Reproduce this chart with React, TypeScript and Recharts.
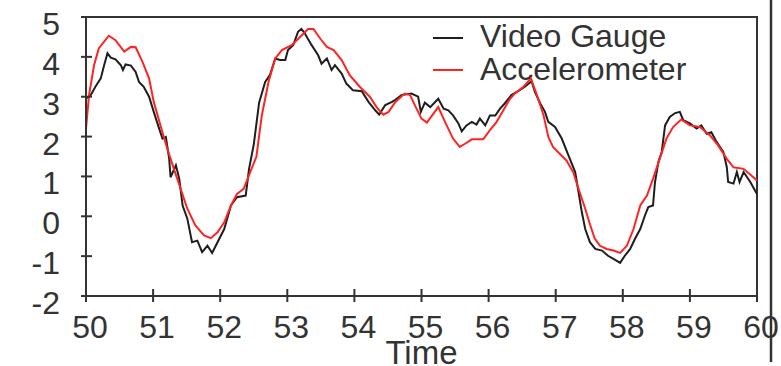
import { LineChart, Line, XAxis, YAxis, ReferenceArea } from "recharts";

// sample times (s) and displacement readings for the two sensors
const videoTime = [
  50.0, 50.07, 50.14, 50.22, 50.27, 50.32, 50.37, 50.44, 50.52, 50.55, 50.59, 50.67, 50.74, 50.79,
  50.86, 50.94, 51.01, 51.09, 51.14, 51.19, 51.24, 51.26, 51.34, 51.39, 51.44, 51.51, 51.58, 51.66,
  51.73, 51.81, 51.88, 51.96, 52.06, 52.16, 52.25, 52.38, 52.43, 52.5, 52.58, 52.67, 52.74, 52.82,
  52.89, 52.97, 53.01, 53.09, 53.16, 53.21, 53.26, 53.36, 53.46, 53.51, 53.59, 53.66, 53.71, 53.81,
  53.88, 53.98, 54.11, 54.21, 54.31, 54.37, 54.46, 54.56, 54.61, 54.7, 54.85, 54.95, 54.99, 55.05,
  55.13, 55.25, 55.33, 55.4, 55.47, 55.55, 55.6, 55.67, 55.75, 55.82, 55.87, 55.95, 56.02, 56.1,
  56.17, 56.24, 56.34, 56.44, 56.54, 56.64, 56.69, 56.77, 56.84, 56.89, 56.99, 57.09, 57.19, 57.29,
  57.34, 57.39, 57.44, 57.51, 57.59, 57.69, 57.78, 57.88, 57.96, 58.03, 58.11, 58.18, 58.26, 58.33,
  58.38, 58.45, 58.48, 58.53, 58.58, 58.63, 58.7, 58.78, 58.85, 58.9, 59.0, 59.1, 59.17, 59.25,
  59.32, 59.4, 59.5, 59.55, 59.57, 59.65, 59.7, 59.74, 59.8, 59.9, 60.0,
];
const videoGauge = [
  2.95, 3.04, 3.25, 3.46, 3.79, 4.09, 3.98, 3.94, 3.79, 3.67, 3.81, 3.78, 3.62, 3.37,
  3.25, 3.0, 2.62, 2.2, 1.95, 1.99, 1.44, 0.98, 1.28, 0.94, 0.27, -0.06, -0.65, -0.61,
  -0.9, -0.74, -0.92, -0.65, -0.32, 0.27, 0.48, 0.52, 1.19, 1.8, 2.85, 3.37, 3.54, 3.96,
  3.92, 3.92, 4.17, 4.3, 4.63, 4.7, 4.59, 4.3, 4.04, 3.83, 3.96, 3.67, 3.79, 3.58,
  3.33, 3.16, 3.14, 2.87, 2.66, 2.55, 2.79, 2.87, 2.92, 3.04, 3.08, 3.0, 2.62, 2.85,
  2.74, 2.95, 2.7, 2.66, 2.53, 2.33, 2.13, 2.28, 2.37, 2.3, 2.45, 2.28, 2.53, 2.53,
  2.7, 2.83, 3.04, 3.14, 3.25, 3.39, 3.12, 2.83, 2.62, 2.37, 2.24, 1.95, 1.53, 1.11,
  0.61, 0.1, -0.32, -0.65, -0.82, -0.86, -0.99, -1.09, -1.17, -0.99, -0.82, -0.57, -0.32, 0.02,
  0.23, 0.27, 0.86, 1.36, 1.61, 2.28, 2.49, 2.59, 2.62, 2.41, 2.33, 2.2, 2.28, 2.07,
  2.11, 1.86, 1.61, 1.23, 0.86, 0.82, 1.11, 0.86, 1.11, 0.86, 0.56,
];

const accelTime = [
  50.0, 50.045, 50.12, 50.19, 50.34, 50.44, 50.57, 50.67, 50.74, 50.84, 50.94, 51.01, 51.11, 51.21,
  51.31, 51.41, 51.51, 51.63, 51.76, 51.86, 51.96, 52.06, 52.16, 52.25, 52.35, 52.43, 52.54, 52.62,
  52.72, 52.82, 52.92, 53.07, 53.19, 53.31, 53.39, 53.49, 53.59, 53.69, 53.81, 53.93, 54.08, 54.23,
  54.33, 54.43, 54.51, 54.61, 54.75, 54.83, 54.9, 55.0, 55.08, 55.25, 55.35, 55.47, 55.57, 55.65,
  55.75, 55.92, 56.02, 56.12, 56.22, 56.32, 56.39, 56.52, 56.63, 56.72, 56.82, 56.89, 56.96, 57.06,
  57.16, 57.26, 57.34, 57.44, 57.51, 57.58, 57.66, 57.76, 57.86, 57.96, 58.06, 58.16, 58.26, 58.36,
  58.45, 58.55, 58.65, 58.75, 58.87, 59.0, 59.15, 59.3, 59.42, 59.55, 59.65, 59.8, 60.0,
];
const accelerometer = [
  2.2, 3.04, 3.79, 4.21, 4.53, 4.42, 4.13, 4.25, 4.24, 3.88, 3.46, 2.87, 2.28, 1.7,
  1.19, 0.69, 0.19, -0.23, -0.48, -0.55, -0.4, -0.15, 0.27, 0.56, 0.69, 1.03, 1.5, 2.53,
  3.37, 3.96, 4.17, 4.3, 4.5, 4.7, 4.7, 4.46, 4.25, 4.17, 3.92, 3.54, 3.25, 3.0,
  2.74, 2.55, 2.62, 2.87, 3.08, 3.04, 2.79, 2.45, 2.35, 2.74, 2.37, 1.95, 1.74, 1.82,
  1.93, 1.93, 2.16, 2.37, 2.66, 2.95, 3.08, 3.25, 3.46, 3.04, 2.53, 1.99, 1.74, 1.57,
  1.4, 1.11, 0.69, 0.19, -0.2, -0.55, -0.74, -0.82, -0.86, -0.92, -0.74, -0.32, 0.27, 0.52,
  0.94, 1.44, 1.95, 2.24, 2.43, 2.28, 2.24, 2.03, 1.78, 1.44, 1.23, 1.19, 0.9,
];

const timeTicks = [50, 51, 52, 53, 54, 55, 56, 57, 58, 59, 60];
const valueTicks = [-2, -1, 0, 1, 2, 3, 4, 5];

const seriesNames = ["Video Gauge", "Accelerometer"];
const seriesColors = ["#1e1e1e", "#ff2424"];

const videoData = videoTime.map((t, i) => ({ t, v: videoGauge[i] }));
const accelData = accelTime.map((t, i) => ({ t, v: accelerometer[i] }));

const FONT = "'Liberation Sans', Arial, sans-serif";
const INK = "#333";

function XTick({ x, y, payload }: any) {
  return (
    <g>
      <line x1={x} x2={x} y1={y - 7} y2={y + 6} stroke={INK} strokeWidth={2} />
      <text x={x + 4} y={y + 42} textAnchor="middle" fontSize={32} fontFamily={FONT} fill={INK}>
        {payload.value}
      </text>
    </g>
  );
}

function YTick({ x, y, payload }: any) {
  return (
    <g>
      <line x1={x - 5} x2={x + 6} y1={y} y2={y} stroke={INK} strokeWidth={2} />
      <text x={x - 26} y={y + 18} textAnchor="end" fontSize={32} fontFamily={FONT} fill={INK}>
        {payload.value}
      </text>
    </g>
  );
}

function TimeLabel({ viewBox }: any) {
  const { x, y, width } = viewBox;
  return (
    <text x={x + width / 2} y={y + 68} textAnchor="middle" fontSize={33} fontFamily={FONT} fill={INK}>
      Time
    </text>
  );
}

export default function App() {
  return (
    <div style={{ position: "absolute", left: 0, top: 0, width: 781, height: 366, background: "#fff" }}>
      <LineChart width={781} height={366} margin={{ top: 17, right: 24, bottom: 0, left: 0 }}>
        <XAxis
          dataKey="t"
          type="number"
          domain={[50, 60]}
          ticks={timeTicks}
          allowDataOverflow
          height={70}
          tickSize={0}
          tickMargin={0}
          tickLine={false}
          axisLine={{ stroke: INK, strokeWidth: 2 }}
          tick={<XTick />}
          label={<TimeLabel />}
        />
        <YAxis
          dataKey="v"
          type="number"
          domain={[-2, 5]}
          ticks={valueTicks}
          allowDataOverflow
          width={86}
          tickSize={0}
          tickMargin={0}
          tickLine={false}
          axisLine={{ stroke: INK, strokeWidth: 2 }}
          tick={<YTick />}
        />
        <ReferenceArea x1={50} x2={60} y1={-2} y2={5} fill="none" stroke={INK} strokeWidth={2} ifOverflow="visible" />
        <Line
          data={videoData}
          dataKey="v"
          name={seriesNames[0]}
          type="linear"
          stroke={seriesColors[0]}
          strokeWidth={2}
          dot={false}
          isAnimationActive={false}
        />
        <Line
          data={accelData}
          dataKey="v"
          name={seriesNames[1]}
          type="linear"
          stroke={seriesColors[1]}
          strokeWidth={2}
          dot={false}
          isAnimationActive={false}
        />
        <g>
          {seriesNames.map((name, i) => (
            <g key={name}>
              <line x1={433} x2={463} y1={38 + i * 32} y2={38 + i * 32} stroke={seriesColors[i]} strokeWidth={2} />
              <text x={480} y={47 + i * 33} fontSize={32} fontFamily={FONT} fill={INK}>
                {name}
              </text>
            </g>
          ))}
        </g>
        <line x1={771} x2={771} y1={0} y2={362} stroke={INK} strokeWidth={2.5} />
      </LineChart>
    </div>
  );
}
